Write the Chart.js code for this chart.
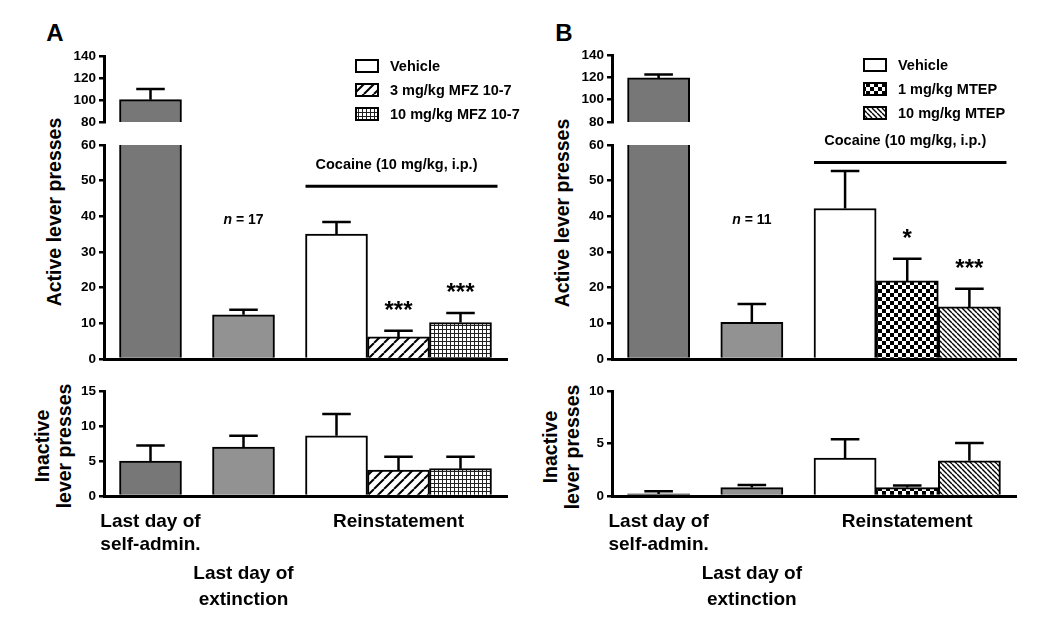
<!DOCTYPE html>
<html>
<head>
<meta charset="utf-8">
<script src="https://cdn.jsdelivr.net/npm/chart.js@4.4.1/dist/chart.umd.min.js"></script>
<style>
  body { margin: 0; width: 1050px; height: 622px; overflow: hidden; position: relative; background: #fff;
         font-family: "Liberation Sans", Arial, sans-serif; font-weight: bold; color: #000; }
  canvas { position: absolute; }
  .t { position: absolute; white-space: nowrap; line-height: 1; transform: translate(-50%, -50%); }
  .rot { position: absolute; white-space: nowrap; text-align: center; transform: translate(-50%, -50%) rotate(-90deg); }
</style>
</head>
<body>
<div class="t" style="left:55px;top:33px;font-size:24px">A</div>
<div class="t" style="left:564px;top:33px;font-size:24px">B</div>
<div class="rot" style="left:55px;top:212px;font-size:19.5px;line-height:1">Active lever presses</div>
<div class="rot" style="left:563px;top:213px;font-size:19.5px;line-height:1">Active lever presses</div>
<div class="rot" style="left:53px;top:446px;font-size:19.5px;line-height:22px">Inactive<br>lever presses</div>
<div class="rot" style="left:561px;top:447px;font-size:19.5px;line-height:22px">Inactive<br>lever presses</div>
<script>
var groupLabels = [['Last day of', 'self-admin.'], ['Last day of', 'extinction'], ['Reinstatement']]
var seriesA = ['Vehicle', '3 mg/kg MFZ 10-7', '10 mg/kg MFZ 10-7']
var seriesB = ['Vehicle', '1 mg/kg MTEP', '10 mg/kg MTEP']

// panel A: self-admin, extinction, vehicle, 3 mg/kg, 10 mg/kg
var activeA = [100.3, 12.4, 35, 6.2, 10.2]
var activeSemA = [9.7, 1.4, 3.4, 1.7, 2.7]
var inactiveA = [5.0, 7.0, 8.6, 3.7, 3.9]
var inactiveSemA = [2.2, 1.6, 3.1, 1.9, 1.7]
var sigA = ['', '', '', '***', '***']

// panel B: self-admin, extinction, vehicle, 1 mg/kg, 10 mg/kg
var activeB = [119.5, 10.3, 42.2, 21.9, 14.6]
var activeSemB = [3.0, 5.1, 10.5, 6.2, 5.1]
var inactiveB = [0.2, 0.8, 3.6, 0.8, 3.35]
var inactiveSemB = [0.25, 0.25, 1.8, 0.2, 1.7]
var sigB = ['', '', '', '*', '***']

// layout
var barSlots = [0, 3, 6, 8, 10]
var labelSlots = [0, 3, 8]
var YW = 50, PAD = 12, PADR = 26, XH = 120
var FONT = '"Liberation Sans", Arial, sans-serif'

Chart.defaults.font.family = FONT
Chart.defaults.color = '#000'

function tile(size, draw) {
      var c = document.createElement('canvas')
      c.width = c.height = size
      var g = c.getContext('2d')
      g.fillStyle = '#fff'
      g.fillRect(0, 0, size, size)
      draw(g, size)
      return g.createPattern(c, 'repeat')
}
function stripes(size, lw, up) {
      return tile(size, function(g, s) {
            g.strokeStyle = '#000'
            g.lineWidth = lw
            g.beginPath()
            for (var k = -1; k <= 1; k++) {
                  if (up) { g.moveTo(k * s, s); g.lineTo(k * s + s, 0) }
                  else { g.moveTo(k * s, 0); g.lineTo(k * s + s, s) }
            }
            g.stroke()
      })
}
var slashFill = stripes(10, 2, true)
var backFill = stripes(5, 1.4, false)
var gridFill = tile(4, function(g, s) {
      g.fillStyle = '#222'
      g.fillRect(0, 0, s, 1)
      g.fillRect(0, 0, 1, s)
})
var checkFill = tile(8, function(g, s) {
      g.fillStyle = '#000'
      g.fillRect(0, 0, s / 2, s / 2)
      g.fillRect(s / 2, s / 2, s / 2, s / 2)
})

function makePanel(p) {
      var width = YW + (p.right - p.axisX) + PADR
      var fills = ['#777777', '#929292', '#ffffff', p.fills[0], p.fills[1]]

      var errorBars = {
            id: 'errorBars',
            afterDatasetsDraw: function(chart) {
                  var ds = chart.data.datasets[0]
                  var meta = chart.getDatasetMeta(0)
                  var y = chart.scales.y
                  var a = chart.chartArea
                  var ctx = chart.ctx
                  ctx.save()
                  ctx.beginPath()
                  ctx.rect(a.left, a.top - 2, a.right - a.left, a.bottom - a.top + 2)
                  ctx.clip()
                  ctx.strokeStyle = '#000'
                  ctx.lineWidth = 2.5
                  meta.data.forEach(function(bar, i) {
                        var top = y.getPixelForValue(ds.data[i].y + ds.sem[i])
                        var half = bar.width * 0.23
                        ctx.beginPath()
                        ctx.moveTo(bar.x, bar.y)
                        ctx.lineTo(bar.x, top)
                        ctx.moveTo(bar.x - half, top)
                        ctx.lineTo(bar.x + half, top)
                        ctx.stroke()
                        if (ds.sig && ds.sig[i]) {
                              ctx.fillStyle = '#000'
                              ctx.font = 'bold 24px ' + FONT
                              ctx.textAlign = 'center'
                              ctx.textBaseline = 'alphabetic'
                              ctx.fillText(ds.sig[i], bar.x, top - 13)
                        }
                  })
                  ctx.restore()
            }
      }

      var legend = {
            id: 'legendBox',
            afterDraw: function(chart) {
                  var a = chart.chartArea
                  var ctx = chart.ctx
                  ctx.save()
                  ctx.font = 'bold 14.5px ' + FONT
                  ctx.textAlign = 'left'
                  ctx.textBaseline = 'middle'
                  p.series.forEach(function(name, i) {
                        var bx = a.left + 252, cy = a.top + 10 + 24 * i
                        ctx.fillStyle = fills[2 + i]
                        ctx.fillRect(bx, cy - 6, 22, 12)
                        ctx.lineWidth = 2
                        ctx.strokeStyle = '#000'
                        ctx.strokeRect(bx, cy - 6, 22, 12)
                        ctx.fillStyle = '#000'
                        ctx.fillText(name, bx + 34, cy + 1)
                  })
                  ctx.restore()
            }
      }

      var notes = {
            id: 'notes',
            afterDraw: function(chart) {
                  var meta = chart.getDatasetMeta(0)
                  var y = chart.scales.y
                  var ctx = chart.ctx
                  var b3 = meta.data[2], b5 = meta.data[4], b2 = meta.data[1]
                  var x0 = b3.x - b3.width / 2, x1 = b5.x + b5.width / 2 + 6
                  var yb = y.getPixelForValue(p.bracketAt)
                  ctx.save()
                  ctx.strokeStyle = '#000'
                  ctx.lineWidth = 3
                  ctx.beginPath()
                  ctx.moveTo(x0, yb)
                  ctx.lineTo(x1, yb)
                  ctx.stroke()
                  ctx.fillStyle = '#000'
                  ctx.font = 'bold 14.5px ' + FONT
                  ctx.textAlign = 'center'
                  ctx.textBaseline = 'middle'
                  ctx.fillText('Cocaine (10 mg/kg, i.p.)', (x0 + x1) / 2 - 5, yb - 21)
                  // n = ..
                  var ny = y.getPixelForValue(p.nAt)
                  ctx.font = 'italic bold 14px ' + FONT
                  var w1 = ctx.measureText('n').width
                  ctx.font = 'bold 14px ' + FONT
                  var rest = ' = ' + p.n
                  var w2 = ctx.measureText(rest).width
                  var sx = b2.x - (w1 + w2) / 2
                  ctx.textAlign = 'left'
                  ctx.font = 'italic bold 14px ' + FONT
                  ctx.fillText('n', sx, ny)
                  ctx.font = 'bold 14px ' + FONT
                  ctx.fillText(rest, sx + w1, ny)
                  ctx.restore()
            }
      }

      function build(areaTop, areaBottom, yMin, yMax, yStep, values, sem, sig, kind) {
            var bottomH = kind === 'inactive' ? XH : PAD
            var cv = document.createElement('canvas')
            cv.width = width
            cv.height = PAD + (areaBottom - areaTop) + bottomH
            cv.style.left = (p.axisX - YW) + 'px'
            cv.style.top = (areaTop - PAD) + 'px'
            document.body.appendChild(cv)
            var plugins = [errorBars]
            if (kind === 'upper') plugins.push(legend)
            if (kind === 'lower') plugins.push(notes)
            return new Chart(cv, {
                  type: 'bar',
                  data: {
                        datasets: [{
                              data: values.map(function(v, i) { return { x: barSlots[i], y: v } }),
                              sem: sem,
                              sig: sig,
                              backgroundColor: fills,
                              borderColor: '#000',
                              borderWidth: 2,
                              barPercentage: 1,
                              categoryPercentage: 1,
                              clip: 0
                        }]
                  },
                  options: {
                        responsive: false,
                        animation: false,
                        events: [],
                        layout: { padding: { top: PAD, bottom: kind === 'inactive' ? 0 : PAD, left: 0, right: PADR } },
                        plugins: { legend: { display: false }, tooltip: { enabled: false } },
                        scales: {
                              x: {
                                    type: 'linear',
                                    min: -1.5,
                                    max: 11.5,
                                    offset: false,
                                    z: 1,
                                    afterBuildTicks: function(s) { s.ticks = labelSlots.map(function(v) { return { value: v } }) },
                                    afterFit: kind === 'inactive' ? function(s) { s.height = XH } : undefined,
                                    grid: { display: false, offset: false },
                                    border: { display: kind !== 'upper', color: '#000', width: 3 },
                                    ticks: {
                                          display: kind === 'inactive',
                                          autoSkip: false,
                                          maxRotation: 0,
                                          padding: 6,
                                          font: function(c) {
                                                return { size: 19, weight: 'bold', lineHeight: c.index === 1 ? 1.35 : 1.22 }
                                          },
                                          callback: function(v, i) {
                                                return i === 1 ? ['', ''].concat(groupLabels[i]) : groupLabels[i]
                                          }
                                    }
                              },
                              y: {
                                    min: yMin,
                                    max: yMax,
                                    afterFit: function(s) { s.width = YW },
                                    ticks: { stepSize: yStep, padding: 3, font: { size: 13.5, weight: 'bold' } },
                                    grid: { drawOnChartArea: false, drawTicks: true, tickLength: 5, color: '#000', lineWidth: 2.5 },
                                    border: { color: '#000', width: 3 }
                              }
                        }
                  },
                  plugins: plugins
            })
      }

      build(p.upperTop, 130, 80, 140, 20, p.active, p.activeSem, null, 'upper')
      build(145, 367, 0, 60, 10, p.active, p.activeSem, p.sig, 'lower')
      build(391, 496, 0, p.inactiveMax, 5, p.inactive, p.inactiveSem, null, 'inactive')
}

makePanel({
      axisX: 104, right: 507, upperTop: 56,
      active: activeA, activeSem: activeSemA, inactive: inactiveA, inactiveSem: inactiveSemA,
      sig: sigA, series: seriesA, fills: [slashFill, gridFill],
      inactiveMax: 15, n: '17', nAt: 38.9, bracketAt: 48.4
})
makePanel({
      axisX: 612, right: 1016, upperTop: 55,
      active: activeB, activeSem: activeSemB, inactive: inactiveB, inactiveSem: inactiveSemB,
      sig: sigB, series: seriesB, fills: [checkFill, backFill],
      inactiveMax: 10, n: '11', nAt: 38.9, bracketAt: 55.1
})
</script>
</body>
</html>
